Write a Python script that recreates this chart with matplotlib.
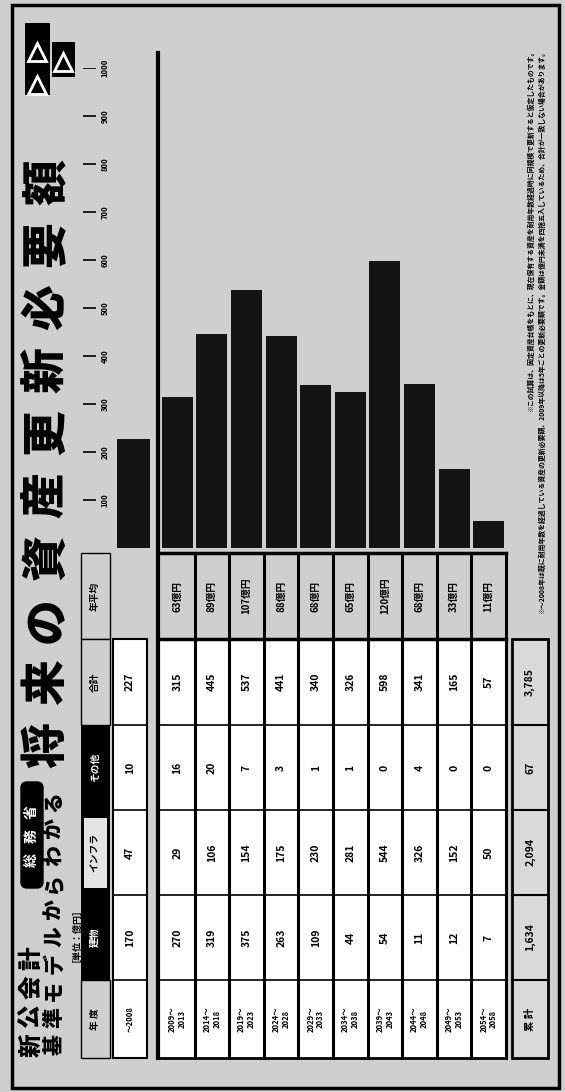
import matplotlib.pyplot as plt
from matplotlib.patches import Rectangle, FancyBboxPatch

plt.rcParams['font.family'] = ['Noto Sans CJK JP', 'DejaVu Sans']

# values in 億円, one entry per period
periods = ['〜2008', '2009〜\n2013', '2014〜\n2018', '2019〜\n2023', '2024〜\n2028',
           '2029〜\n2033', '2034〜\n2038', '2039〜\n2043', '2044〜\n2048',
           '2049〜\n2053', '2054〜\n2058']
buildings = [170, 270, 319, 375, 263, 109, 44, 54, 11, 12, 7]
infra = [47, 29, 106, 154, 175, 230, 281, 544, 326, 152, 50]
others = [10, 16, 20, 7, 3, 1, 1, 0, 4, 0, 0]
totals = [227, 315, 445, 537, 441, 340, 326, 598, 341, 165, 57]
yearly_avg = [None, 63, 89, 107, 88, 68, 65, 120, 68, 33, 11]
grand = ['累 計', '1,634', '2,094', '67', '3,785']
headers = ['年 度', '建物', 'インフラ', 'その他', '合計', '年平均']
yticks = [100, 200, 300, 400, 500, 600, 700, 800, 900, 1000]

title = '将来の資産更新必要額'
sub1 = '新公会計'
badge = '総務省'
sub2 = '基準モデルからわかる'
unit = '［単位：億円］'
note1 = '※この試算は、固定資産台帳をもとに、現在保有する資産を耐用年数経過時に同規模で更新すると仮定したものです。'
note2 = ('※〜2008年は既に耐用年数を経過している資産の更新必要額、2009年以降は5年ごとの更新必要額です。'
         '金額は億円未満を四捨五入しているため、合計が一致しない場合があります。')

BG = '#cfcfcf'
W, H = 565, 1092

fig = plt.figure(figsize=(W / 100, H / 100), dpi=100, facecolor=BG)
ax = fig.add_axes([0, 0, 1, 1])
ax.set_xlim(0, W)
ax.set_ylim(H, 0)
ax.axis('off')


def spaced(x, y_start, y_end, s, **kw):
    # place characters one by one, reading bottom to top
    n = len(s)
    step = (y_start - y_end) / (n - 1)
    for i, ch in enumerate(s):
        ax.text(x, y_start - i * step, ch, rotation=90, ha='center', va='center', **kw)


# frame
ax.add_patch(Rectangle((12, 5), 547, 1083, fill=False, lw=2.5, ec='black'))

# arrows top-left
ax.add_patch(Rectangle((25, 23), 25, 72, fc='black'))
ax.add_patch(Rectangle((52, 42), 23, 35, fc='black'))
ax.plot([37, 37, 63], [52, 85, 62], ls='none', marker='^', ms=13, mfc='black', mec='white', mew=2)

# titles
spaced(47, 745, 182, title, fontsize=33, fontweight='heavy')
spaced(31, 1045, 958, sub1, fontsize=17, fontweight='heavy')
ax.add_patch(FancyBboxPatch((21, 782), 22, 106, boxstyle='round,pad=0,rounding_size=6', fc='black'))
spaced(32, 860, 812, badge, fontsize=10, fontweight='bold', color='white')
spaced(54, 1045, 802, sub2, fontsize=15, fontweight='heavy')
ax.text(72, 931, unit, rotation=90, ha='center', va='center', fontsize=6.5, fontweight='bold')

# table layout
fy = [553, 639, 725, 810, 895, 980, 1058]
fc_ = [(fy[i] + fy[i + 1]) / 2 for i in range(6)]
y_avg, y_tot, y_oth, y_inf, y_bld, y_year = fc_
edges = [160 + 34.6 * i for i in range(11)]
cx = [130] + [(edges[i] + edges[i + 1]) / 2 for i in range(10)]

ax.add_patch(Rectangle((160, 639), 346, 419, fc='white', lw=0))
ax.add_patch(Rectangle((113, 639), 34, 419, fc='white', ec='black', lw=1.5))
ax.add_patch(Rectangle((512, 639), 36, 419, fc='#d9d9d9', ec='black', lw=2))
for e in edges[1:]:
    ax.plot([e, e], [553, 1058], color='black', lw=2.2)
ax.plot([158, 158], [53, 1058], color='black', lw=3)
for i, y in enumerate(fy):
    lw = 2.5 if i < 2 else (2 if i == 6 else 1.2)
    ax.plot([158, 506], [y, y], color='black', lw=lw)
for y in fy[2:-1]:
    ax.plot([113, 147], [y, y], color='black', lw=1.2)
    ax.plot([512, 548], [y, y], color='black', lw=1.5)

# header column
ax.add_patch(Rectangle((81, 553), 29, 86, fc=BG, ec='black', lw=1))
ax.add_patch(Rectangle((81, 639), 29, 86, fc=BG, ec='black', lw=1))
ax.add_patch(Rectangle((81, 725), 29, 255, fc='black'))
ax.add_patch(Rectangle((84, 818), 23, 70, fc='#e4e4e4'))
ax.add_patch(Rectangle((81, 980), 29, 78, fc=BG, ec='black', lw=1))
hy = [y_year, y_bld, y_inf, y_oth, y_tot, y_avg]
hcol = ['black', 'white', 'black', 'white', 'black', 'black']
for lab, y, c in zip(headers, hy, hcol):
    ax.text(95, y, lab, rotation=90, ha='center', va='center', fontsize=7, fontweight='bold', color=c)

# table body
kw = dict(rotation=90, ha='center', va='center', fontweight='bold')
for i in range(len(periods)):
    x = cx[i]
    ax.text(x, y_year, periods[i], fontsize=5.5, linespacing=1.1, **kw)
    ax.text(x, y_bld, str(buildings[i]), fontsize=7.5, **kw)
    ax.text(x, y_inf, str(infra[i]), fontsize=7.5, **kw)
    ax.text(x, y_oth, str(others[i]), fontsize=7.5, **kw)
    ax.text(x, y_tot, str(totals[i]), fontsize=7.5, **kw)
    if yearly_avg[i] is not None:
        ax.text(x, y_avg, f'{yearly_avg[i]}億円', fontsize=7, **kw)
for lab, y in zip(grand, [y_year, y_bld, y_inf, y_oth, y_tot]):
    ax.text(530, y, lab, fontsize=7.5, **kw)

# bars
axb = fig.add_axes([0, 1 - 548 / H, 1, 480 / H])
axb.set_xlim(0, W)
axb.set_ylim(0, 1000)
axb.axis('off')
bar_x = [133.5] + cx[1:]
bar_w = [33] + [31] * 10
axb.bar(bar_x, totals, width=bar_w, color='#141414')
axb.hlines(yticks, 83, 96, color='black', lw=1.2)
for v in yticks:
    axb.text(105, v, str(v), rotation=90, ha='center', va='center', fontsize=5.5, fontweight='bold')

# notes, right aligned at the top, fitted to their measured length
t1 = ax.text(530, 48, note1, rotation=90, rotation_mode='anchor', ha='right', va='center',
             fontsize=5, fontweight='bold')
t2 = ax.text(541, 48, note2, rotation=90, rotation_mode='anchor', ha='right', va='center',
             fontsize=5, fontweight='bold')
fig.canvas.draw()
r = fig.canvas.get_renderer()
for t, target in [(t1, 366), (t2, 572)]:
    ext = t.get_window_extent(r)
    t.set_fontsize(t.get_fontsize() * target / ext.height)

fig.savefig('out.png', dpi=100, facecolor=BG)
